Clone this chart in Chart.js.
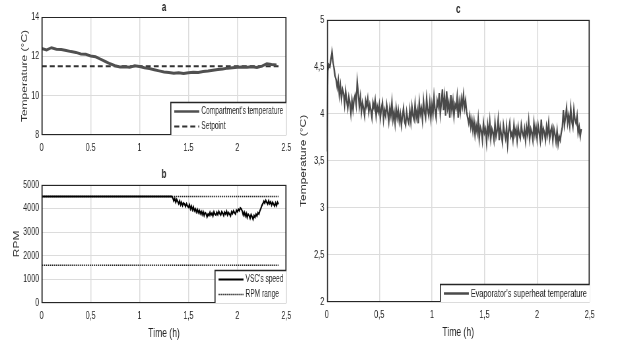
<!DOCTYPE html>
<html>
<head>
<meta charset="utf-8">
<script src="https://cdn.jsdelivr.net/npm/chart.js@4.4.1/dist/chart.umd.min.js"></script>
<style>
body{margin:0;background:#fff;width:621px;height:354px;overflow:hidden;position:relative}
canvas{position:absolute;transform-origin:0 0}
</style>
</head>
<body>
<canvas id="graphA"></canvas>
<canvas id="graphB"></canvas>
<canvas id="graphC"></canvas>
<script>
// panel a : compartment temperature, sampled every 0.05 h
const timeA = [0,0.05,0.1,0.15,0.2,0.25,0.3,0.35,0.4,0.45,0.5,0.55,0.6,0.65,0.7,0.75,0.8,0.85,0.9,0.95,
    1,1.05,1.1,1.15,1.2,1.25,1.3,1.35,1.4,1.45,1.5,1.55,1.6,1.65,1.7,1.75,1.8,1.85,1.9,1.95,
    2,2.05,2.1,2.15,2.2,2.25,2.3,2.35,2.4]
const compTemp = [12.40,12.32,12.44,12.36,12.35,12.30,12.24,12.20,12.12,12.10,12.02,11.98,11.86,11.74,11.62,11.52,11.46,11.47,11.44,11.52,
    11.48,11.42,11.38,11.32,11.26,11.20,11.18,11.14,11.16,11.13,11.16,11.19,11.18,11.23,11.25,11.29,11.33,11.36,11.40,11.42,
    11.44,11.46,11.44,11.47,11.43,11.50,11.62,11.58,11.56]
const setpointTime = [0, 2.42]
const setpointTemp = [11.5, 11.5]

// panel b : compressor speed, flat at the top until 1.33 h, then every 0.01 h
const speedFlat = 4500
const speedStart = 1.33
const speedStep = 0.01
const speedRpm = [4500,4440,4320,4420,4260,4380,4300,
    4200,4320,4150,4260,4120,4230,4180,4080,4200,4100,
    4050,4160,3980,4100,3940,4060,3900,3980,3850,3960,
    3820,3920,3780,3880,3740,3860,3700,3820,3780,3640,
    3760,3700,3840,3720,3800,3680,3860,3760,3720,3840,
    3740,3880,3780,3720,3860,3800,3700,3840,3760,3880,
    3720,3820,3760,3680,3860,3780,3900,3820,3760,3920,
    3860,3960,3900,4020,3980,3880,3720,3840,3680,3800,
    3620,3760,3700,3580,3740,3660,3540,3700,3620,3760,
    3680,3820,3760,3900,4000,4120,4200,4300,4220,4340,
    4260,4180,4320,4200,4280,4140,4260,4180,4100,4240,
    4120,4260,4180]
const rangeTime = [0, 2.42]
const rpmMax = [4500, 4500]
const rpmMin = [1600, 1600]

// panel c : superheat, sampled every 0.01 h
const stepC = 0.01
const superheat = [3.60,4.46,4.52,4.50,4.58,4.66,4.55,4.48,4.40,4.36,
    4.28,4.36,4.20,4.30,4.16,4.26,4.22,4.10,4.24,4.14,
    4.06,4.18,4.12,4.00,4.14,4.04,4.16,4.20,4.10,4.34,
    4.22,4.08,4.18,4.02,4.12,4.06,3.98,4.14,4.08,4.16,
    4.02,4.10,4.04,3.96,4.12,4.06,4.14,3.98,4.08,4.02,
    4.10,3.96,4.06,4.12,3.94,4.04,3.98,4.10,4.02,3.92,
    4.06,3.98,4.12,3.94,4.02,3.90,4.06,3.96,4.04,3.92,
    4.00,3.88,3.98,4.06,3.92,3.88,4.02,3.94,3.90,4.04,
    3.92,4.08,3.98,3.94,4.10,3.96,4.04,3.90,4.12,4.00,
    4.06,3.94,4.14,4.02,3.96,4.16,4.04,3.98,4.12,3.96,
    4.10,4.00,4.18,4.04,3.96,4.14,4.08,4.22,4.00,4.12,
    4.26,4.04,4.18,3.98,4.24,4.06,4.12,3.96,4.20,4.04,
    4.14,3.98,4.10,4.06,4.18,3.96,4.12,4.02,4.16,4.08,
    4.20,4.06,4.14,4.02,3.96,3.90,3.98,3.86,3.94,3.82,
    3.92,3.78,3.88,3.80,3.94,3.74,3.86,3.82,3.72,3.90,
    3.80,3.84,3.70,3.88,3.78,3.92,3.74,3.84,3.80,3.72,
    3.90,3.76,3.82,3.94,3.72,3.86,3.78,3.70,3.88,3.80,
    3.74,3.86,3.68,3.82,3.90,3.76,3.80,3.72,3.88,3.78,
    3.84,3.72,3.86,3.78,3.74,3.88,3.80,3.76,3.84,3.72,
    3.86,3.78,3.92,3.74,3.84,3.80,3.72,3.90,3.78,3.86,
    3.74,3.88,3.80,3.72,3.94,3.76,3.84,3.80,3.72,3.86,
    3.78,3.90,3.74,3.82,3.86,3.72,3.84,3.78,3.70,3.82,
    3.68,3.76,3.72,3.80,3.86,4.04,3.88,3.96,4.06,3.90,
    3.98,3.88,4.06,3.92,3.86,4.04,3.94,3.90,3.98,3.80,
    3.86,3.76,3.84]

const speedTime = [0].concat(speedRpm.map((v,i) => speedStart + i*speedStep))
const speedAll = [speedFlat].concat(speedRpm)
const timeC = superheat.map((v,i) => i*stepC)

// the original figure is squeezed horizontally, draw wide then squeeze the canvas
const S = 0.66
const V = x => x / S
const SANS = '"Liberation Sans", Arial, sans-serif'
const INK = '#262626'

function pts(xs, ys){
    return xs.map((x,i) => ({x: x, y: ys[i]}))
}

function place(id, left, top, w, h){
    const c = document.getElementById(id)
    c.width = Math.round(V(w))
    c.height = h
    c.style.left = left + 'px'
    c.style.top = top + 'px'
    c.style.transform = 'scaleX(' + S + ')'
    return c
}

// matlab style box around the axes
const boxPlugin = {
    id: 'box',
    afterDatasetsDraw(chart){
        const a = chart.chartArea, ctx = chart.ctx
        const l = Math.round(a.left), r = Math.round(a.right), t = Math.round(a.top)+0.5, b = Math.round(a.bottom)-0.5
        ctx.save()
        ctx.strokeStyle = INK
        ctx.lineWidth = 1
        ctx.beginPath()
        ctx.moveTo(l, t); ctx.lineTo(r, t)
        ctx.moveTo(l, b); ctx.lineTo(r, b)
        ctx.stroke()
        ctx.lineWidth = 1.6
        ctx.beginPath()
        ctx.moveTo(l+0.8, t-0.5); ctx.lineTo(l+0.8, b+0.5)
        ctx.moveTo(r-0.8, t-0.5); ctx.lineTo(r-0.8, b+0.5)
        ctx.stroke()
        ctx.restore()
    }
}

// legend in the bottom right corner, inside the axes
const cornerLegend = {
    id: 'cornerLegend',
    afterDraw(chart, args, opts){
        const a = chart.chartArea, ctx = chart.ctx
        const sets = chart.data.datasets.filter(d => d.label)
        ctx.save()
        ctx.font = opts.size + 'px ' + SANS
        let textW = 0
        sets.forEach(d => { textW = Math.max(textW, ctx.measureText(d.label).width) })
        const pad = V(4), len = V(25), gap = V(2)
        const w = pad + len + gap + textW + V(3)
        const h = 3 + 15*sets.length
        const x0 = Math.round(a.right - w), y0 = Math.round(a.bottom - h) + 0.5
        ctx.fillStyle = '#fff'
        ctx.fillRect(x0, y0, a.right - x0, a.bottom - y0)
        ctx.strokeStyle = INK
        ctx.beginPath()
        ctx.moveTo(x0+0.8, a.bottom); ctx.lineTo(x0+0.8, y0); ctx.lineTo(a.right, y0)
        ctx.lineWidth = 1.6
        ctx.stroke()
        sets.forEach((d,i) => {
            const yy = y0 + 9 + 15*i
            ctx.strokeStyle = d.borderColor
            ctx.lineWidth = Math.min(d.borderWidth, 2.5)
            ctx.setLineDash(d.borderDash || [])
            ctx.beginPath()
            ctx.moveTo(x0+pad, yy)
            ctx.lineTo(x0+pad+len, yy)
            ctx.stroke()
            ctx.setLineDash([])
            ctx.fillStyle = INK
            ctx.textBaseline = 'middle'
            ctx.fillText(d.label, x0+pad+len+gap, yy)
        })
        ctx.restore()
    }
}

function makeOptions(o){
    const fmt = v => o.comma ? String(v).replace('.', ',') : String(v)
    return {
        responsive: false,
        animation: false,
        layout: {padding: {left: 0, right: V(o.right), top: 0, bottom: 0}},
        plugins: {
            legend: {display: false},
            tooltip: {enabled: false},
            cornerLegend: {size: o.legendSize},
            title: {
                display: true, text: o.title, fullSize: false, color: INK,
                font: {family: SANS, size: 12, weight: 'bold'},
                padding: {top: o.titleTop, bottom: o.titleBottom}
            }
        },
        elements: {point: {radius: 0}, line: {tension: 0}},
        scales: {
            x: {
                type: 'linear', min: 0, max: 2.5,
                ticks: {stepSize: 0.5, padding: 6, color: INK, font: {family: SANS, size: 11}, maxRotation: 0, callback: fmt},
                grid: {color: '#dcdcdc', lineWidth: 1.5, drawTicks: false},
                border: {display: false},
                title: {display: !!o.xTitle, text: o.xTitle, color: INK, font: {family: SANS, size: 13}, padding: {top: 0, bottom: o.xTitlePad}},
                afterFit(s){ s.height = o.xHeight; s.paddingLeft = 0; s.paddingRight = 0 }
            },
            y: {
                min: o.ymin, max: o.ymax,
                ticks: {stepSize: o.ystep, padding: V(2.5), color: INK, font: {family: SANS, size: 11}, callback: fmt},
                grid: {color: '#dcdcdc', drawTicks: false},
                border: {display: false},
                title: {display: true, text: o.yTitle, color: '#333', font: {family: SANS, size: 12}, padding: {top: V(o.yTitleX) - 7.2, bottom: 0}},
                afterFit(s){ s.width = V(o.yWidth); s.paddingTop = 0; s.paddingBottom = 0 }
            }
        }
    }
}

new Chart(place('graphA', 0, 0, 300, 158), {
    type: 'line',
    data: {datasets: [{
        label: "Compartment's temperature",
        data: pts(timeA, compTemp),
        borderColor: '#505050', borderWidth: 3
    },{
        label: 'Setpoint',
        data: pts(setpointTime, setpointTemp),
        borderColor: '#333333', borderWidth: 2, borderDash: [V(5), V(3)]
    }]},
    options: makeOptions({title: 'a', titleTop: 0, titleBottom: 2.6, right: 14, ymin: 8, ymax: 14, ystep: 2,
        yTitle: 'Temperature (°C)', yTitleX: 25, yWidth: 41.7, xHeight: 23, comma: false, legendSize: 10}),
    plugins: [boxPlugin, cornerLegend]
})

new Chart(place('graphB', 0, 158, 300, 196), {
    type: 'line',
    data: {datasets: [{
        label: "VSC's speed",
        data: pts(speedTime, speedAll),
        borderColor: '#000000', borderWidth: 2
    },{
        label: 'RPM range',
        data: pts(rangeTime, rpmMax),
        borderColor: '#222222', borderWidth: 1.5, borderDash: [V(1.2), V(0.8)]
    },{
        data: pts(rangeTime, rpmMin),
        borderColor: '#222222', borderWidth: 1.5, borderDash: [V(1.2), V(0.8)]
    }]},
    options: makeOptions({title: 'b', titleTop: 9.7, titleBottom: 2.7, right: 14, ymin: 0, ymax: 5000, ystep: 1000,
        yTitle: 'RPM', yTitleX: 17, yWidth: 41.7, xHeight: 51, xTitle: 'Time (h)', xTitlePad: 13.2, comma: true, legendSize: 10}),
    plugins: [boxPlugin, cornerLegend]
})

new Chart(place('graphC', 292, 0, 329, 354), {
    type: 'line',
    data: {datasets: [{
        label: "Evaporator's superheat temperature",
        data: pts(timeC, superheat),
        borderColor: '#4a4a4a', borderWidth: 2.3
    }]},
    options: makeOptions({title: 'c', titleTop: 2.7, titleBottom: 2.7, right: 31, ymin: 2, ymax: 5, ystep: 0.5,
        yTitle: 'Temperature (°C)', yTitleX: 11.5, yWidth: 34.7, xHeight: 52, xTitle: 'Time (h)', xTitlePad: 14.2, comma: true, legendSize: 11}),
    plugins: [boxPlugin, cornerLegend]
})
</script>
</body>
</html>
